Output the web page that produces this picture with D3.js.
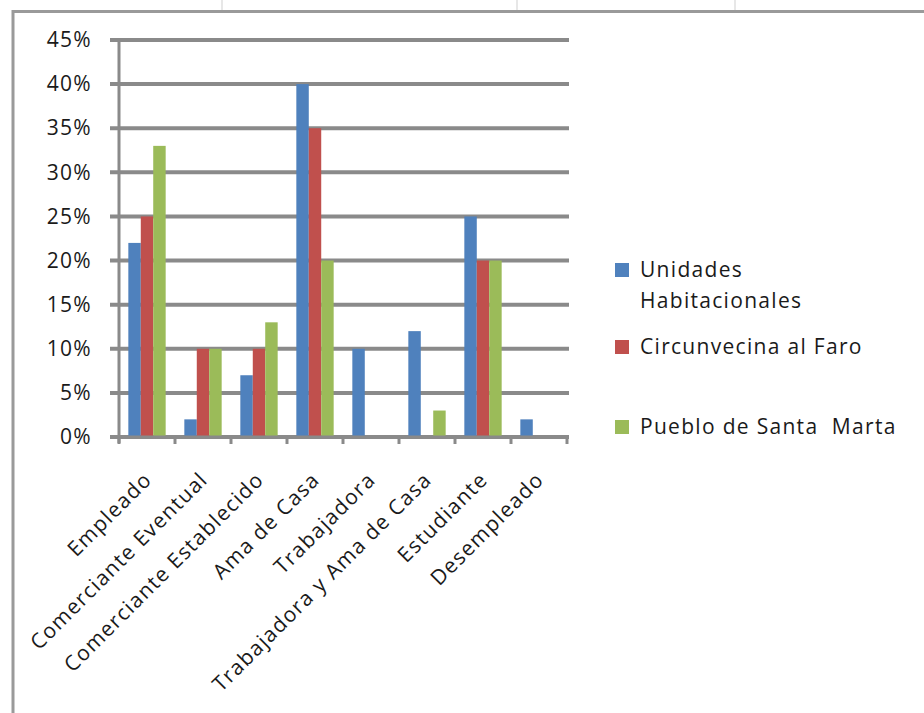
<!DOCTYPE html>
<html>
<head>
<meta charset="utf-8">
<script src="https://cdn.jsdelivr.net/npm/d3@7"></script>
<style>
  body { margin: 0; background: #fff; }
  svg { display: block; }
  text { font-family: "Open Sans", "Noto Sans", sans-serif; fill: #1a1a1a; letter-spacing: 1.3px; }
</style>
</head>
<body>
<div id="container"><svg id="canvas" width="924" height="713"></svg></div>
<script>
var categories = ['Empleado', 'Comerciante Eventual', 'Comerciante Establecido', 'Ama de Casa',
                  'Trabajadora', 'Trabajadora y Ama de Casa', 'Estudiante', 'Desempleado'];
var seriesNames = ['Unidades Habitacionales', 'Circunvecina al Faro', 'Pueblo de Santa  Marta'];
var unidades     = [0.22, 0.02, 0.07, 0.40, 0.10, 0.12, 0.25, 0.02];
var circunvecina = [0.25, 0.10, 0.10, 0.35, 0.00, 0.00, 0.20, 0.00];
var pueblo       = [0.33, 0.10, 0.13, 0.20, 0.00, 0.03, 0.20, 0.00];
var yTicks = [0, 0.05, 0.10, 0.15, 0.20, 0.25, 0.30, 0.35, 0.40, 0.45];
var colors = ['#4F81BD', '#C0504D', '#9BBB59'];

var svg = d3.select('#canvas');
var grey = '#8a8a8a';

// ************************************************************************************** //
// Sheet frame

[222, 517, 735].forEach(function(x){
  svg.append('line').attr('x1', x).attr('x2', x).attr('y1', 0).attr('y2', 10)
    .style('stroke', '#cfcfcf').style('stroke-width', 1);
});
svg.append('path').attr('d', 'M13,713 L13,11.5 L924,11.5')
  .style('fill', 'none').style('stroke', '#9a9a9a').style('stroke-width', 3);

// ************************************************************************************** //
// Scales

var plotLeft = 119, plotRight = 567, plotTop = 40, plotBottom = 437;
var x0 = d3.scaleBand().domain(categories).range([plotLeft, plotRight]).paddingInner(0).paddingOuter(0);
var x1 = d3.scaleBand().domain(d3.range(seriesNames.length)).range([0, x0.bandwidth()])
  .paddingInner(0).paddingOuter(0.75);
var y = d3.scaleLinear().domain([0, 0.45]).range([plotBottom, plotTop]);

// grid
var g = svg.append('g');
g.selectAll('.grid').data(yTicks).enter().append('line')
  .attr('class', 'grid')
  .attr('x1', plotLeft - 9).attr('x2', plotRight + 2)
  .attr('y1', function(d){ return y(d); }).attr('y2', function(d){ return y(d); })
  .style('stroke', grey).style('stroke-width', 4);

// y labels
var yAxis = g.append('g').attr('transform', 'translate(' + plotLeft + ',0)')
  .call(d3.axisLeft(y).tickValues(yTicks).tickFormat(d3.format('.0%')).tickSize(0).tickPadding(27));
yAxis.select('.domain').remove();
yAxis.selectAll('text').style('font-size', '21px').style('font-family', '"Open Sans", sans-serif')
  .style('fill', '#1a1a1a').style('letter-spacing', '1.3px');

// bars
var series = [unidades, circunvecina, pueblo];
series.forEach(function(vals, s){
  g.selectAll('.bar' + s).data(vals).enter().append('rect')
    .attr('class', 'bar' + s)
    .attr('x', function(d, i){ return x0(categories[i]) + x1(s); })
    .attr('width', x1.bandwidth())
    .attr('y', function(d){ return y(d); })
    .attr('height', function(d){ return y(0) - y(d); })
    .style('fill', colors[s]);
});

// axes lines
g.append('line').attr('x1', plotLeft).attr('x2', plotLeft).attr('y1', plotTop).attr('y2', plotBottom + 6)
  .style('stroke', grey).style('stroke-width', 3);
g.append('line').attr('x1', plotLeft - 9).attr('x2', plotRight + 2).attr('y1', plotBottom).attr('y2', plotBottom)
  .style('stroke', grey).style('stroke-width', 3);
var tickXs = categories.map(function(c){ return x0(c); }).concat([plotRight]);
g.selectAll('.xtick').data(tickXs).enter().append('line')
  .attr('x1', function(d){ return d; }).attr('x2', function(d){ return d; })
  .attr('y1', plotBottom).attr('y2', plotBottom + 7)
  .style('stroke', grey).style('stroke-width', 3);

// x labels
g.selectAll('.xlabel').data(categories).enter().append('text')
  .attr('class', 'xlabel')
  .attr('transform', function(d){ return 'translate(' + (x0(d) + x0.bandwidth()/2 + 6) + ',' + (plotBottom + 44) + ') rotate(-45)'; })
  .attr('text-anchor', 'end')
  .style('font-size', '21px')
  .text(function(d){ return d; });

// ************************************************************************************** //
// Legend

var legend = svg.append('g').attr('transform', 'translate(615,0)');
var legendRows = [
  { lines: ['Unidades', 'Habitacionales'], y: 277 },
  { lines: ['Circunvecina al Faro'], y: 354 },
  { lines: ['Pueblo de Santa  Marta'], y: 434 }
];
legendRows.forEach(function(r, i){
  legend.append('rect').attr('x', 0).attr('y', r.y - 14).attr('width', 14).attr('height', 14)
    .style('fill', colors[i]);
  var t = legend.append('text').attr('x', 25).attr('y', r.y).style('font-size', '21px')
    .style('white-space', 'pre');
  r.lines.forEach(function(l, k){
    t.append('tspan').attr('x', 25).attr('dy', k === 0 ? 0 : 31).text(l);
  });
});
</script>
</body>
</html>
